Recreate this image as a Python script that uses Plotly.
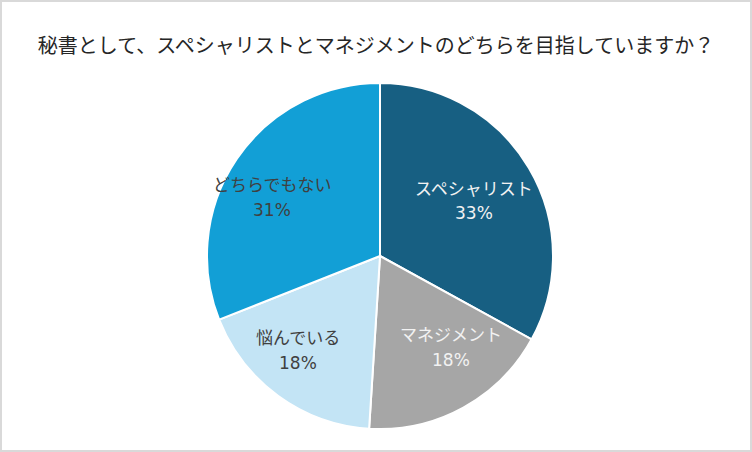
import plotly.graph_objects as go

title = "秘書として、スペシャリストとマネジメントのどちらを目指していますか？"
labels = ["スペシャリスト", "マネジメント", "悩んでいる", "どちらでもない"]
values = [33, 18, 18, 31]
colors = ["#175f82", "#a6a6a6", "#c3e4f5", "#129fd6"]
text_colors = ["#f2f2f2", "#f2f2f2", "#404040", "#404040"]

W, H = 752, 452
CX, CY, R = 380, 256, 173
# label block centres relative to pie centre (pixels, layout only)
label_offsets = [(94, -55), (71, 91), (-82, 94), (-108, -59)]
LINE_GAP = 25
FONT = "DejaVu Sans, Noto Sans CJK JP"

fig = go.Figure(go.Pie(
    labels=labels,
    values=values,
    sort=False,
    direction="clockwise",
    rotation=0,
    marker=dict(colors=colors, line=dict(color="white", width=2)),
    textinfo="none",
    hoverinfo="label+percent",
    showlegend=False,
    domain=dict(x=[(CX - R) / W, (CX + R) / W], y=[(H - CY - R) / H, (H - CY + R) / H]),
))

total = sum(values)
annotations = []
for lab, val, col, (dx, dy) in zip(labels, values, text_colors, label_offsets):
    px, py = CX + dx, CY + dy
    for txt, off in ((lab, -LINE_GAP / 2), (f"{val / total * 100:.0f}%", LINE_GAP / 2)):
        annotations.append(dict(
            text=txt, x=px / W, y=1 - (py + off) / H, xref="paper", yref="paper",
            xanchor="center", yanchor="middle", showarrow=False,
            font=dict(family=FONT, size=17, color=col),
        ))

fig.update_layout(
    width=W, height=H,
    margin=dict(l=0, r=0, t=0, b=0),
    paper_bgcolor="white",
    title=dict(text=title, x=0.5, xanchor="center", y=1 - 46 / H, yanchor="middle",
               font=dict(family="Noto Sans CJK JP", size=20, color="#262626")),
    annotations=annotations,
    shapes=[dict(type="rect", xref="paper", yref="paper",
                 x0=1 / W, x1=1 - 1 / W, y0=1 / H, y1=1 - 1 / H,
                 line=dict(color="#d9d9d9", width=2))],
)

fig.write_html("out.html")
